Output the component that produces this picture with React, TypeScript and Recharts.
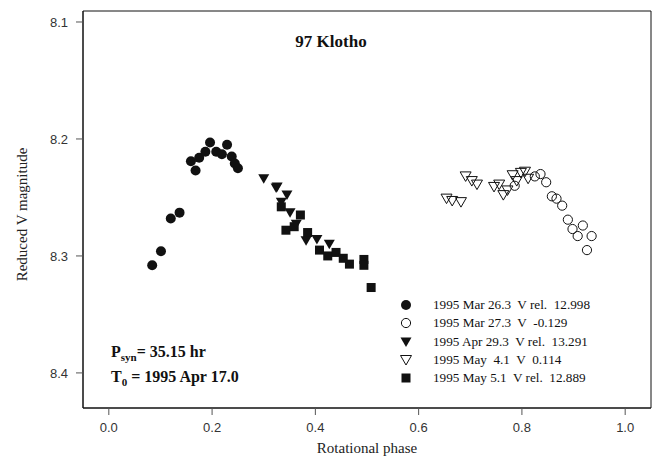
import { ScatterChart, Scatter, XAxis, YAxis, ReferenceArea } from 'recharts'

// phase / reduced V magnitude
const mar26Phase = [0.084, 0.101, 0.12, 0.137, 0.159, 0.168, 0.175, 0.187, 0.196, 0.208, 0.219, 0.229, 0.238, 0.244, 0.25]
const mar26Mag = [8.308, 8.296, 8.268, 8.263, 8.219, 8.227, 8.216, 8.211, 8.203, 8.211, 8.213, 8.205, 8.215, 8.221, 8.225]

const mar27Phase = [0.786, 0.825, 0.836, 0.847, 0.858, 0.867, 0.878, 0.889, 0.898, 0.908, 0.918, 0.935, 0.926]
const mar27Mag = [8.24, 8.232, 8.23, 8.237, 8.249, 8.251, 8.257, 8.269, 8.277, 8.283, 8.274, 8.283, 8.295]

const apr29Phase = [0.3, 0.324, 0.326, 0.345, 0.334, 0.351, 0.363, 0.382, 0.403, 0.427]
const apr29Mag = [8.234, 8.242, 8.241, 8.248, 8.254, 8.263, 8.273, 8.287, 8.286, 8.29]

const may4Phase = [0.654, 0.665, 0.682, 0.691, 0.703, 0.713, 0.746, 0.756, 0.764, 0.772, 0.782, 0.79, 0.798, 0.806, 0.812]
const may4Mag = [8.251, 8.253, 8.254, 8.232, 8.236, 8.239, 8.241, 8.239, 8.248, 8.244, 8.231, 8.236, 8.229, 8.228, 8.234]

const may5Phase = [0.334, 0.371, 0.343, 0.359, 0.385, 0.408, 0.424, 0.44, 0.454, 0.466, 0.494, 0.494, 0.508]
const may5Mag = [8.258, 8.265, 8.278, 8.275, 8.28, 8.295, 8.3, 8.297, 8.302, 8.307, 8.303, 8.308, 8.327]

const xTicks = [0, 0.2, 0.4, 0.6, 0.8, 1.0]
const yTicks = [8.1, 8.2, 8.3, 8.4]

const legendLabels = [
  '1995 Mar 26.3  V rel.  12.998',
  '1995 Mar 27.3  V  -0.129',
  '1995 Apr 29.3  V rel.  13.291',
  '1995 May  4.1  V  0.114',
  '1995 May 5.1  V rel.  12.889',
]

const toPoints = (xs: number[], ys: number[]) => xs.map((x, i) => ({ x, y: ys[i] }))

const serif = '"Liberation Serif", "Times New Roman", serif'
const sans = '"Liberation Sans", Arial, sans-serif'
const ink = '#111'

function FilledCircle({ cx, cy }: any) {
  return <circle cx={cx} cy={cy} r={5} fill={ink} />
}
function OpenCircle({ cx, cy }: any) {
  return <circle cx={cx} cy={cy} r={4.6} fill="none" stroke={ink} strokeWidth={1} />
}
function FilledDown({ cx, cy }: any) {
  return <polygon points={`${cx - 5.5},${cy - 4.5} ${cx + 5.5},${cy - 4.5} ${cx},${cy + 5}`} fill={ink} />
}
function OpenDown({ cx, cy }: any) {
  return <polygon points={`${cx - 5.5},${cy - 4.5} ${cx + 5.5},${cy - 4.5} ${cx},${cy + 5}`} fill="none" stroke={ink} strokeWidth={1} />
}
function FilledSquare({ cx, cy }: any) {
  return <rect x={cx - 4.5} y={cy - 4.5} width={9} height={9} fill={ink} />
}

const legendShapes = [FilledCircle, OpenCircle, FilledDown, OpenDown, FilledSquare]

export default function App() {
  return (
    <div style={{ position: 'absolute', left: 0, top: 0, width: 656, height: 468, background: '#fff' }}>
      <ScatterChart width={656} height={468} margin={{ top: 11, right: 5, left: 0, bottom: 0 }}>
        <XAxis
          type="number"
          dataKey="x"
          domain={[-0.05, 1.05]}
          ticks={xTicks}
          tickFormatter={(v: number) => v.toFixed(1)}
          height={60}
          tickSize={7}
          tickMargin={8}
          axisLine={{ stroke: ink }}
          tickLine={{ stroke: '#555' }}
          tick={{ fill: '#333', fontSize: 13, fontFamily: sans }}
          allowDataOverflow
        />
        <YAxis
          type="number"
          dataKey="y"
          domain={[8.0906, 8.43]}
          reversed
          ticks={yTicks}
          tickFormatter={(v: number) => v.toFixed(1)}
          width={83}
          tickSize={7}
          tickMargin={8}
          axisLine={{ stroke: ink }}
          tickLine={{ stroke: '#555' }}
          tick={{ fill: '#333', fontSize: 13, fontFamily: sans }}
          allowDataOverflow
        />
        <ReferenceArea x1={-0.05} x2={1.05} y1={8.0906} y2={8.43} fill="none" stroke={ink} strokeWidth={1} ifOverflow="visible" />
        <Scatter data={toPoints(mar26Phase, mar26Mag)} shape={FilledCircle} isAnimationActive={false} />
        <Scatter data={toPoints(mar27Phase, mar27Mag)} shape={OpenCircle} isAnimationActive={false} />
        <Scatter data={toPoints(may4Phase, may4Mag)} shape={OpenDown} isAnimationActive={false} />
        <Scatter data={toPoints(may5Phase, may5Mag)} shape={FilledSquare} isAnimationActive={false} />
        <Scatter data={toPoints(apr29Phase, apr29Mag)} shape={FilledDown} isAnimationActive={false} />
      </ScatterChart>

      {/* title */}
      <div style={{ position: 'absolute', left: 231, width: 200, top: 32, textAlign: 'center', fontFamily: serif, fontWeight: 'bold', fontSize: 17, color: ink }}>
        97 Klotho
      </div>

      {/* axis titles */}
      <div style={{ position: 'absolute', left: 267, width: 200, top: 440, textAlign: 'center', fontFamily: serif, fontSize: 15, color: '#222' }}>
        Rotational phase
      </div>
      <div
        style={{
          position: 'absolute', left: 22, top: 215, width: 220, marginLeft: -110, marginTop: -9,
          textAlign: 'center', fontFamily: serif, fontSize: 15, color: '#222', transform: 'rotate(-90deg)',
        }}
      >
        Reduced V magnitude
      </div>

      {/* period annotation */}
      <div style={{ position: 'absolute', left: 111, top: 339, fontFamily: serif, fontWeight: 'bold', fontSize: 16, color: ink, lineHeight: '25px' }}>
        <div>P<sub style={{ fontSize: 11, lineHeight: 0 }}>syn</sub>= 35.15 hr</div>
        <div>T<sub style={{ fontSize: 11, lineHeight: 0 }}>0</sub> = 1995 Apr 17.0</div>
      </div>

      {/* legend */}
      <div style={{ position: 'absolute', left: 398, top: 296, fontFamily: serif, fontSize: 13.2, color: ink }}>
        {legendLabels.map((label, i) => {
          const Shape = legendShapes[i]
          return (
            <div key={label} style={{ display: 'flex', alignItems: 'center', height: 18.3 }}>
              <svg width={16} height={14} style={{ marginRight: 19 }}>
                <Shape cx={8} cy={7} />
              </svg>
              <span style={{ whiteSpace: 'pre' }}>{label}</span>
            </div>
          )
        })}
      </div>
    </div>
  )
}
